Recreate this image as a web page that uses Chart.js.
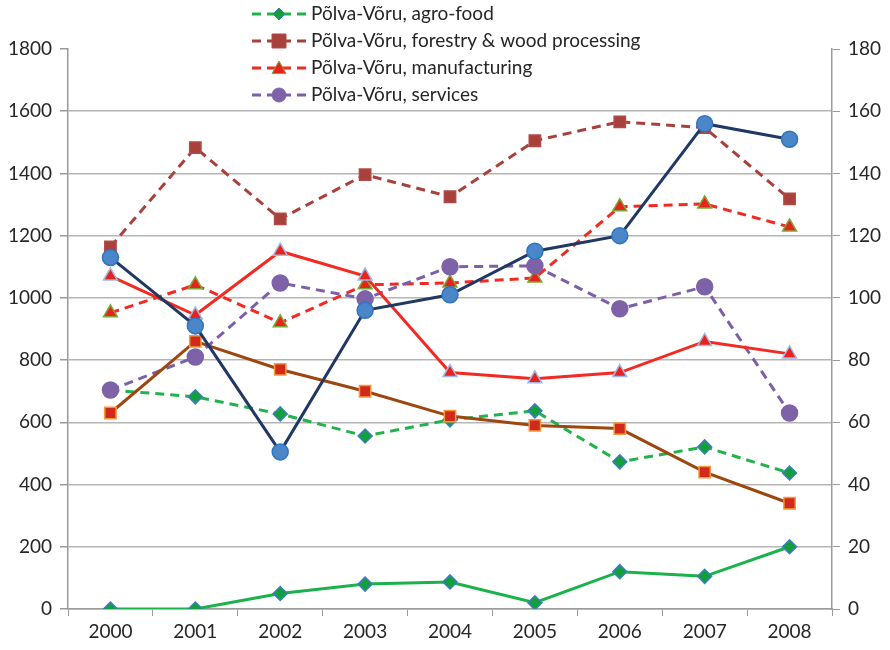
<!DOCTYPE html>
<html>
<head>
<meta charset="utf-8">
<script src="https://cdn.jsdelivr.net/npm/chart.js@4.4.0/dist/chart.umd.min.js"></script>
<style>
  html, body { margin: 0; padding: 0; background: #fff; }
  #wrap { width: 890px; height: 650px; position: relative; }
</style>
</head>
<body>
<div id="wrap"><canvas id="metricsChart"></canvas></div>
<script>
const years = ['2000', '2001', '2002', '2003', '2004', '2005', '2006', '2007', '2008'];

// left axis (0-1800), shown in legend
const agroFood = [704, 682, 627, 556, 608, 637, 473, 521, 437];
const forestryWood = [1164, 1483, 1254, 1396, 1325, 1505, 1566, 1547, 1318];
const manufacturing = [952, 1042, 920, 1042, 1048, 1064, 1293, 1302, 1228];
const services = [704, 810, 1048, 997, 1100, 1103, 965, 1036, 630];

// right axis (0-180), no legend entry
const solidNavy = [113, 91, 50.5, 96, 101, 115, 120, 156, 151];
const solidRed = [107, 94.5, 115, 107, 76, 74, 76, 86, 82];
const solidBrown = [63, 86, 77, 70, 62, 59, 58, 44, 34];
const solidGreen = [0, 0, 5, 8, 8.7, 2, 12, 10.5, 20];

const legendNames = [
    'Põlva-Võru, agro-food',
    'Põlva-Võru, forestry & wood processing',
    'Põlva-Võru, manufacturing',
    'Põlva-Võru, services'
];

const FONT = 'Lato, "Open Sans", sans-serif';
const dash = [9, 6];

function ds(label, data, axis, line, fill, border, style, radius, dashed, order, legendRow) {
    return {
        label: label,
        data: data,
        yAxisID: axis,
        borderColor: line,
        backgroundColor: line,
        borderWidth: 3,
        borderDash: dashed ? dash : [],
        pointStyle: style,
        pointRadius: radius,
        pointBackgroundColor: fill,
        pointBorderColor: border,
        pointBorderWidth: 1.5,
        tension: 0,
        fill: false,
        order: order,
        legendRow: legendRow
    };
}

function drawMarker(c, style, x, y, r) {
    if (style === 'circle') {
        c.arc(x, y, r, 0, Math.PI * 2);
    } else if (style === 'rect') {
        c.rect(x - r, y - r, r * 2, r * 2);
    } else if (style === 'rectRot') {
        c.moveTo(x, y - r);
        c.lineTo(x + r, y);
        c.lineTo(x, y + r);
        c.lineTo(x - r, y);
        c.closePath();
    } else if (style === 'triangle') {
        c.moveTo(x, y - r);
        c.lineTo(x + r, y + r * 0.8);
        c.lineTo(x - r, y + r * 0.8);
        c.closePath();
    }
}

// simple legend: dashed line + marker + text, one per row
const rowLegend = {
    id: 'rowLegend',
    afterDraw(chart) {
        const c = chart.ctx;
        chart.data.datasets.forEach(d => {
            if (d.legendRow < 0) return;
            const y = 14 + d.legendRow * 27;
            c.save();
            c.strokeStyle = d.borderColor;
            c.lineWidth = 3;
            c.setLineDash(dash);
            c.beginPath();
            c.moveTo(252, y);
            c.lineTo(306, y);
            c.stroke();
            c.setLineDash([]);
            c.fillStyle = d.pointBackgroundColor;
            c.strokeStyle = d.pointBorderColor;
            c.lineWidth = 1;
            c.beginPath();
            drawMarker(c, d.pointStyle, 279, y, d.pointRadius - 1);
            c.fill();
            c.stroke();
            c.fillStyle = '#262626';
            c.font = '19px ' + FONT;
            c.textBaseline = 'middle';
            c.textAlign = 'left';
            c.fillText(d.label, 311, y);
            c.restore();
        });
    }
};

const plainTick = v => String(v);

const ctx = document.getElementById('metricsChart').getContext('2d');
new Chart(ctx, {
    type: 'line',
    data: {
        labels: years,
        datasets: [
            ds('Navy', solidNavy, 'y1', '#1f3864', '#4a86c8', '#2f75c0', 'circle', 8, false, 1, -1),
            ds('Red', solidRed, 'y1', '#f22a22', '#e8231c', '#9fb8e4', 'triangle', 8, false, 2, -1),
            ds('Brown', solidBrown, 'y1', '#9e4610', '#d12a1c', '#f29a3a', 'rect', 8, false, 3, -1),
            ds(legendNames[3], services, 'y', '#7b5fa8', '#7e62a8', '#7e62a8', 'circle', 8, true, 4, 3),
            ds(legendNames[2], manufacturing, 'y', '#f22a22', '#e8231c', '#7aa83a', 'triangle', 8, true, 5, 2),
            ds(legendNames[1], forestryWood, 'y', '#a8403c', '#a8403c', '#b04a46', 'rect', 8, true, 6, 1),
            ds(legendNames[0], agroFood, 'y', '#22b24c', '#12a03a', '#3e7cc0', 'rectRot', 7, true, 7, 0),
            ds('Green', solidGreen, 'y1', '#1bb14b', '#12a03a', '#3e7cc0', 'rectRot', 7, false, 8, -1)
        ]
    },
    options: {
        responsive: true,
        maintainAspectRatio: false,
        animation: false,
        layout: { padding: { top: 49, left: 0, right: 0, bottom: 0 } },
        plugins: {
            legend: { display: false },
            tooltip: { enabled: false }
        },
        scales: {
            x: {
                offset: true,
                grid: {
                    offset: true,
                    drawOnChartArea: false,
                    tickLength: 7,
                    tickColor: '#9a9a9a'
                },
                border: { color: '#9a9a9a', width: 1.5 },
                ticks: { color: '#262626', font: { family: FONT, size: 19 }, padding: 4 },
                afterFit(s) { s.height = 41; }
            },
            y: {
                position: 'left',
                min: 0,
                max: 1800,
                ticks: { stepSize: 200, callback: plainTick, color: '#262626', font: { family: FONT, size: 19 }, padding: 8 },
                grid: {
                    color: c => (c.tick && c.tick.value === 1800) ? 'rgba(0,0,0,0)' : '#b5b5b5',
                    tickColor: '#9a9a9a',
                    tickLength: 8,
                    lineWidth: 1.5
                },
                border: { color: '#9a9a9a', width: 1.5 },
                afterFit(s) { s.width = 68; }
            },
            y1: {
                position: 'right',
                min: 0,
                max: 180,
                ticks: { stepSize: 20, callback: plainTick, color: '#262626', font: { family: FONT, size: 19 }, padding: 8 },
                grid: { drawOnChartArea: false, tickColor: '#9a9a9a', tickLength: 8 },
                border: { color: '#9a9a9a', width: 1.5 },
                afterFit(s) { s.width = 58; }
            }
        }
    },
    plugins: [rowLegend]
});
</script>
</body>
</html>
